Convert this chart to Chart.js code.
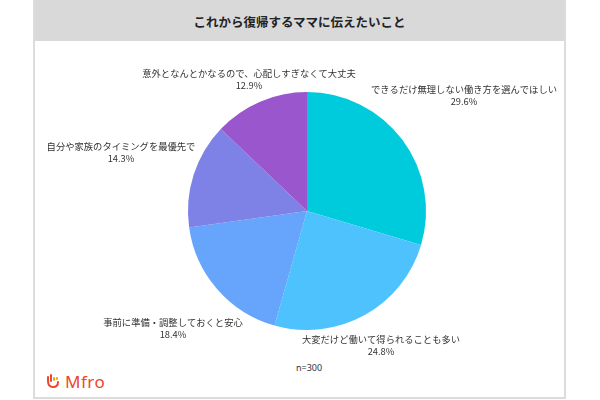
<!DOCTYPE html>
<html><head><meta charset="utf-8">
<script src="https://cdn.jsdelivr.net/npm/chart.js@4"></script>
<style>
html,body{margin:0;padding:0;background:#fff;}
#wrap{position:relative;width:600px;height:400px;overflow:hidden;font-family:"Noto Sans CJK JP","Noto Sans",sans-serif;}
#panel{position:absolute;left:33px;top:0;width:529px;height:397px;border:2px solid #dcdcdc;border-top:none;background:#fff;}
#head{position:absolute;left:0;top:0;width:529px;height:41px;background:#d9d9d9;text-align:center;line-height:44px;font-weight:bold;font-size:12.5px;color:#222;}
#n{position:absolute;left:296px;top:361px;font-size:9px;color:#333;font-family:"Noto Sans","Noto Sans CJK JP",sans-serif;}
#logo{position:absolute;left:45px;top:370px;height:22px;display:flex;align-items:center;}
#logo span{font-family:"Noto Sans","Open Sans",sans-serif;font-size:17px;color:#f0452a;margin-left:4px;letter-spacing:0.5px;}
canvas{position:absolute;left:0;top:0;}
</style></head>
<body>
<div id="wrap">
  <div id="panel"><div id="head">これから復帰するママに伝えたいこと</div></div>
  <div id="n">n=300</div>
  <div id="logo"><svg width="16" height="18" viewBox="0 0 16 18"><path d="M3 5 L3 9 Q3 15 8 15 Q13 15 13 10" fill="none" stroke="#f0452a" stroke-width="2" stroke-linecap="round"/><path d="M6 3 L6 9" stroke="#f0452a" stroke-width="2" stroke-linecap="round"/><path d="M9 6 L9 8" stroke="#f7a01a" stroke-width="2" stroke-linecap="round"/><path d="M12 6 L12 7" stroke="#f7a01a" stroke-width="2" stroke-linecap="round"/></svg><span>Mfro</span></div>
  <canvas id="c" width="600" height="400"></canvas>
</div>
<script>
const categories = [
  "できるだけ無理しない働き方を選んでほしい",
  "大変だけど働いて得られることも多い",
  "事前に準備・調整しておくと安心",
  "自分や家族のタイミングを最優先で",
  "意外となんとかなるので、心配しすぎなくて大丈夫"
];
const values = [29.6, 24.8, 18.4, 14.3, 12.9];
const colors = ["#00cbdc", "#4dc2fd", "#66a5fb", "#7e81e5", "#9a56cc"];

const labelPlugin = {
  id: 'outerLabels',
  afterDatasetsDraw(chart, args, opts) {
    const ctx = chart.ctx;
    const meta = chart.getDatasetMeta(0);
    ctx.save();
    ctx.fillStyle = '#333';
    ctx.textAlign = 'center';
    ctx.textBaseline = 'middle';
    ctx.font = '9.3px "Noto Sans CJK JP", sans-serif';
    meta.data.forEach((arc, i) => {
      const off = opts.offsets[i];
      const x = arc.x + off[0];
      const y = arc.y + off[1];
      ctx.fillText(chart.data.labels[i], x, y - 6);
      ctx.fillText(chart.data.datasets[0].data[i].toFixed(1) + '%', x, y + 6);
    });
    ctx.restore();
  }
};

new Chart(document.getElementById('c'), {
  type: 'pie',
  data: {
    labels: categories,
    datasets: [{ data: values, backgroundColor: colors, borderWidth: 0 }]
  },
  options: {
    responsive: false,
    animation: false,
    layout: { padding: { left: 188, right: 174, top: 92, bottom: 70 } },
    plugins: {
      legend: { display: false },
      tooltip: { enabled: false },
      outerLabels: { offsets: [[157, -116], [74, 134], [-134, 117], [-186, -59], [-58, -132]] }
    }
  },
  plugins: [labelPlugin]
});
</script>
</body></html>
